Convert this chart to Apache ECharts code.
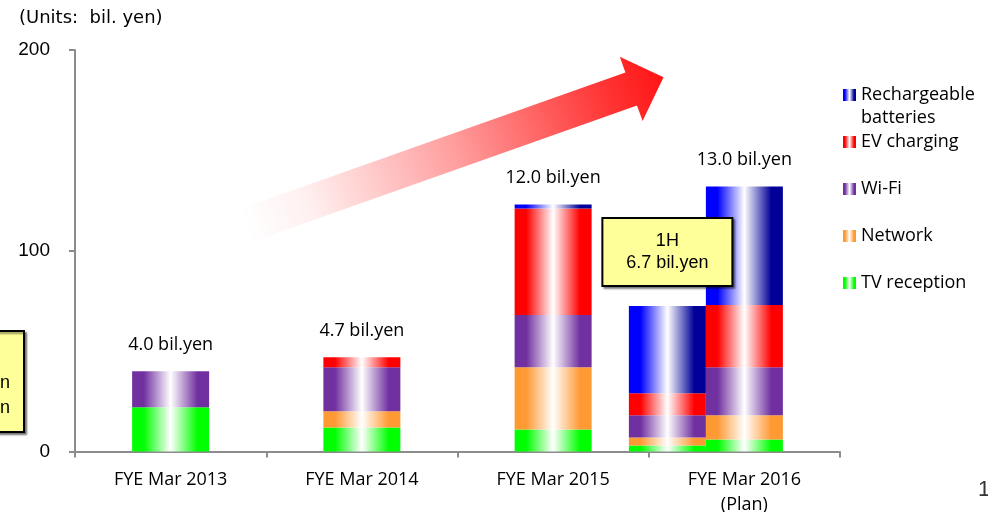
<!DOCTYPE html>
<html>
<head>
<meta charset="utf-8">
<title>Sales by product line</title>
<script src="https://cdn.jsdelivr.net/npm/echarts@6/dist/echarts.min.js"></script>
<style>
  html, body { margin: 0; padding: 0; background: #fff; }
  #chart { width: 988px; height: 512px; }
</style>
</head>
<body>
<div id="chart"></div>
<script>
// Fiscal years on the category axis
const categories = ['FYE Mar 2013', 'FYE Mar 2014', 'FYE Mar 2015', 'FYE Mar 2016\n(Plan)'];

// Segment values per fiscal year (bottom to top of each stack)
const tvReception = [22, 12, 11, 6];
const network     = [null, 8, 31, 12];
const wifi        = [18, 22, 26, 24];
const evCharging  = [null, 5, 53, 31];
const batteries   = [null, null, 2, 59];

// First half of FYE Mar 2016, same segment order: TV, Network, Wi-Fi, EV, Batteries
const firstHalfValues = [3, 4, 11, 11, 43.5];

// Annotation texts
const totalLabels = ['4.0 bil.yen', '4.7 bil.yen', '12.0 bil.yen', '13.0 bil.yen'];
const firstHalfLabel = '1H\n6.7 bil.yen';
const segmentNames = ['TV reception', 'Network', 'Wi-Fi', 'EV charging', 'Rechargeable batteries'];
const legendOrder = ['Rechargeable batteries', 'EV charging', 'Wi-Fi', 'Network', 'TV reception'];
const yTicks = { min: 0, max: 200, step: 100 };

// Edge colours of each segment's cylinder-like shading
const palette = {
  'TV reception': ['#00FF00', '#00FF00'],
  'Network': ['#FF9933', '#FF9933'],
  'Wi-Fi': ['#7030A0', '#7030A0'],
  'EV charging': ['#FF0000', '#FF0000'],
  'Rechargeable batteries': ['#0000FF', '#000099']
};

function shade(name) {
  const c = palette[name];
  return new echarts.graphic.LinearGradient(0, 0, 1, 0, [
    { offset: 0, color: c[0] },
    { offset: 0.15, color: c[0] },
    { offset: 0.5, color: '#FFFFFF' },
    { offset: 0.85, color: c[1] },
    { offset: 1, color: c[1] }
  ]);
}

const mainSeriesValues = [tvReception, network, wifi, evCharging, batteries];
const totals = categories.map((_, i) =>
  mainSeriesValues.reduce((s, arr) => s + (arr[i] || 0), 0));

const BAR_W = 77;
const labelFont = 'Open Sans';
const series = [];

// 1H stack (first slot, sits left of the full-year bar)
segmentNames.forEach((name, k) => {
  const data = categories.map((_, i) => (i === categories.length - 1 ? firstHalfValues[k] : null));
  const isTop = k === segmentNames.length - 1;
  series.push({
    type: 'bar',
    name: name,
    stack: 'half',
    barWidth: BAR_W,
    barGap: '0%',
    z: 5,
    itemStyle: { color: shade(name) },
    data: data.map(v => {
      if (isTop && v != null) {
        return {
          value: v,
          label: {
            show: true,
            position: 'top',
            distance: 21,
            formatter: firstHalfLabel,
            fontFamily: 'Liberation Sans',
            fontSize: 18,
            color: '#000',
            lineHeight: 22,
            align: 'center',
            width: 128,
            padding: [11, 0, 11, 0],
            backgroundColor: '#FFFF99',
            borderColor: '#000',
            borderWidth: 2,
            shadowColor: 'rgba(0,0,0,0.45)',
            shadowBlur: 2,
            shadowOffsetX: 2,
            shadowOffsetY: 2
          }
        };
      }
      return v;
    })
  });
});

// Full-year stack (middle slot, centred on the category)
segmentNames.forEach((name, k) => {
  series.push({
    type: 'bar',
    name: name,
    stack: 'year',
    barWidth: BAR_W,
    barGap: '0%',
    itemStyle: { color: shade(name) },
    data: mainSeriesValues[k]
  });
});

// Empty third slot keeps the full-year stack centred
series.push({
  type: 'bar',
  name: 'spacer',
  stack: 'spacer',
  barWidth: BAR_W,
  barGap: '0%',
  silent: true,
  data: categories.map(() => null)
});

// Year totals written above each full-year stack
series.push({
  type: 'scatter',
  name: 'totals',
  symbolSize: 1,
  silent: true,
  itemStyle: { color: 'transparent', opacity: 1 },
  label: {
    show: true,
    position: 'top',
    distance: 16,
    formatter: p => totalLabels[p.dataIndex],
    fontFamily: labelFont,
    fontSize: 18,
    color: '#000',
    opacity: 1,
    lineHeight: 20
  },
  data: totals
});

const axisGrey = '#8c8c8c';

const option = {
  animation: false,
  backgroundColor: '#ffffff',
  grid: { left: 75, right: 148, top: 50, bottom: 60.5, containLabel: false, outerBoundsMode: 'none' },
  xAxis: {
    type: 'category',
    data: categories,
    boundaryGap: true,
    axisLine: { lineStyle: { color: axisGrey, width: 2 } },
    axisTick: { show: true, length: 6, lineStyle: { color: axisGrey, width: 2 } },
    axisLabel: {
      margin: 16,
      fontFamily: labelFont,
      fontSize: 18,
      color: '#000',
      lineHeight: 25
    }
  },
  yAxis: {
    type: 'value',
    min: yTicks.min,
    max: yTicks.max,
    interval: yTicks.step,
    axisLine: { show: true, lineStyle: { color: axisGrey, width: 2 } },
    axisTick: { show: true, length: 6, lineStyle: { color: axisGrey, width: 2 } },
    splitLine: { show: false },
    axisLabel: {
      margin: 25,
      fontFamily: 'Liberation Sans',
      fontSize: 19,
      color: '#000'
    }
  },
  legend: {
    data: legendOrder,
    orient: 'vertical',
    left: 843,
    top: 85,
    padding: 0,
    icon: 'rect',
    itemWidth: 13,
    itemHeight: 12,
    itemGap: 27,
    selectedMode: false,
    formatter: n => (n === 'Rechargeable batteries' ? 'Rechargeable' : n),
    textStyle: { fontFamily: labelFont, fontSize: 18, color: '#000', lineHeight: 20 }
  },
  graphic: [
    {
      type: 'text',
      left: 19,
      top: 9,
      style: { text: '(Units:  bil. yen)', fontFamily: 'DejaVu Sans', fontSize: 18, fill: '#000' }
    },
    {
      type: 'text',
      left: 861,
      top: 109,
      style: { text: 'batteries', fontFamily: labelFont, fontSize: 18, fill: '#000' }
    },
    {
      // Growth arrow, fading in from the lower left
      type: 'polygon',
      z: 0,
      silent: true,
      shape: {
        points: [
          [239.2, 209.2], [625.4, 72.4], [619.8, 56.8], [663.5, 77.2],
          [642.6, 121.0], [637.0, 105.4], [250.8, 242.2]
        ]
      },
      style: {
        fill: {
          type: 'linear', global: true,
          x: 245, y: 226, x2: 663, y2: 77,
          colorStops: [
            { offset: 0, color: 'rgba(255,0,0,0)' },
            { offset: 0.15, color: 'rgba(255,0,0,0.06)' },
            { offset: 0.5, color: 'rgba(255,0,0,0.38)' },
            { offset: 0.85, color: 'rgba(255,0,0,0.78)' },
            { offset: 1, color: 'rgba(255,0,0,0.92)' }
          ]
        }
      }
    },
    {
      type: 'rect',
      silent: true,
      shape: { x: -110, y: 331, width: 134, height: 101 },
      style: {
        fill: '#FFFF99', stroke: '#000', lineWidth: 2,
        shadowColor: 'rgba(0,0,0,0.45)', shadowBlur: 2, shadowOffsetX: 2, shadowOffsetY: 2
      }
    },
    {
      type: 'text',
      left: 0,
      top: 371,
      style: { text: 'n\nn', fontFamily: 'Liberation Sans', fontSize: 18, lineHeight: 25, fill: '#000' }
    },
    {
      type: 'text',
      left: 978,
      top: 479,
      style: { text: '1', fontFamily: 'Liberation Sans', fontSize: 22, fill: '#333' }
    }
  ],
  series: series
};

const chart = echarts.init(document.getElementById('chart'), null, { renderer: 'canvas' });
chart.setOption(option);
</script>
</body>
</html>
